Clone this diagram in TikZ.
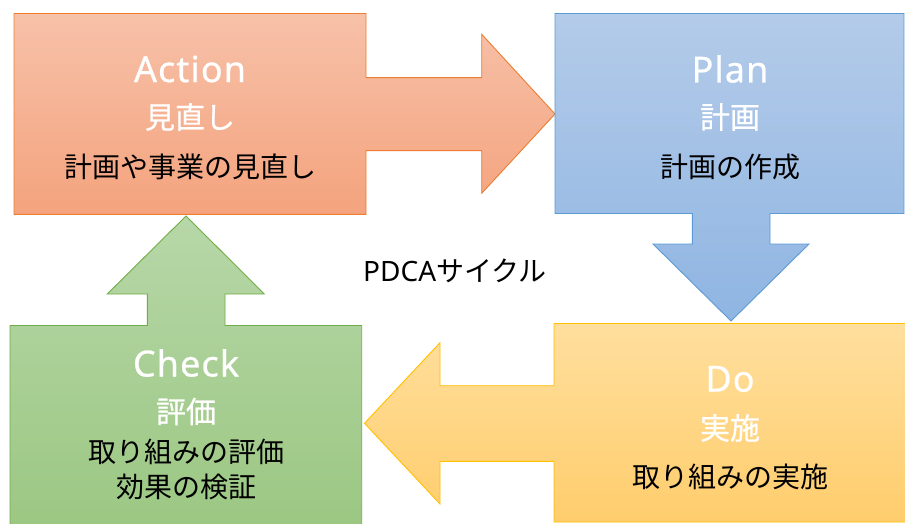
\documentclass[tikz,border=0pt]{standalone}
\usepackage{fontspec}
\setmainfont{Noto Sans CJK JP}
\newfontfamily\latf{Noto Sans}
\newfontfamily\latfb{Noto Sans}[FakeBold=0.6,LetterSpace=3]
\newfontfamily\jpb{Noto Sans CJK JP}[FakeBold=0.6]
\definecolor{actTop}{RGB}{247,193,169}
\definecolor{actBot}{RGB}{244,163,125}
\definecolor{actLine}{RGB}{237,125,49}
\definecolor{planTop}{RGB}{180,203,233}
\definecolor{planBot}{RGB}{143,181,226}
\definecolor{planLine}{RGB}{91,155,213}
\definecolor{doTop}{RGB}{255,223,158}
\definecolor{doBot}{RGB}{255,205,108}
\definecolor{doLine}{RGB}{255,192,0}
\definecolor{chkTop}{RGB}{183,215,168}
\definecolor{chkBot}{RGB}{155,199,130}
\definecolor{chkLine}{RGB}{112,173,71}
\tikzset{
  shapeline/.style={line width=0.9pt, line join=miter},
  ttl/.style={text=white, inner sep=0pt, font=\latfb\fontsize{36}{40}\selectfont},
  jttl/.style={text=white, inner sep=0pt, font=\jpb\fontsize{30}{34}\selectfont},
  body/.style={text=black, inner sep=0pt, font=\fontsize{28}{32}\selectfont},
}
\begin{document}
\begin{tikzpicture}[x=1pt,y=-1pt]
\useasboundingbox (0,0) rectangle (905,524);
\clip (0,0) rectangle (905,524);
\fill[white] (0,0) rectangle (905,524);
% Action
\path[shapeline, draw=actLine, top color=actTop, bottom color=actBot]
  (14,13.5) -- (366,13.5) -- (366,77.7) -- (481.7,77.7) -- (481.7,34.3) -- (555,114)
  -- (481.7,193.3) -- (481.7,150.7) -- (366,150.7) -- (366,214.3) -- (14,214.3) -- cycle;
% Plan
\path[shapeline, draw=planLine, top color=planTop, bottom color=planBot]
  (555,13.5) -- (904,13.5) -- (904,213.5) -- (770,213.5) -- (770,244) -- (809,244)
  -- (731,321) -- (653,244) -- (692.3,244) -- (692.3,213.5) -- (555,213.5) -- cycle;
% Do
\path[shapeline, draw=doLine, top color=doTop, bottom color=doBot]
  (554,323.5) -- (910,323.5) -- (910,522) -- (554,522) -- (554,461.3) -- (440,461.3)
  -- (440,504) -- (364.5,423.3) -- (440,342.7) -- (440,385.7) -- (554,385.7) -- cycle;
% Check
\path[shapeline, draw=chkLine, top color=chkTop, bottom color=chkBot]
  (10,325.5) -- (147.3,325.5) -- (147.3,294) -- (107.3,294) -- (186,216) -- (264.3,294)
  -- (225,294) -- (225,325.5) -- (361.7,325.5) -- (361.7,530) -- (10,530) -- cycle;
% texts
\node[ttl]  (aT) at (190,69) {Action};
\node[jttl] (aJ) at (190,117) {見直し};
\node[body] (aB) at (190,167) {計画や事業の見直し};
\node[ttl]  (pT) at (730,69) {Plan};
\node[jttl] (pJ) at (730,117) {計画};
\node[body] (pB) at (730,167) {計画の作成};
\node[ttl]  (dT) at (730,379) {Do};
\node[jttl] (dJ) at (730,428) {実施};
\node[body] (dB) at (730,477) {取り組みの実施};
\node[ttl]  (cT) at (186,363) {Check};
\node[jttl] (cJ) at (186,411.5) {評価};
\node[body] (cB1) at (186,452) {取り組みの評価};
\node[body] (cB2) at (186,487) {効果の検証};
\node[body] (pdca) at (455,271) {{\latf PDCA}サイクル};
\end{tikzpicture}
\end{document}
